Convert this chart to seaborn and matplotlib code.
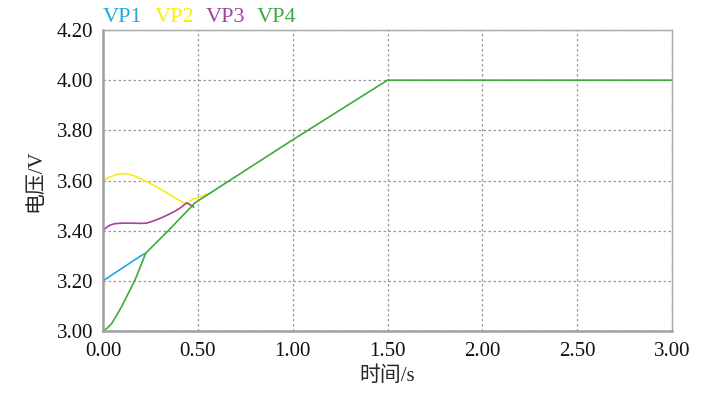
import matplotlib
matplotlib.use("Agg")
import matplotlib.pyplot as plt
import seaborn as sns
import pandas as pd

# ---- data ----
t1 = [0.0, 0.05, 0.10, 0.15, 0.20, 0.225]
v1 = [3.20, 3.225, 3.25, 3.275, 3.30, 3.31]

t2 = [0.0, 0.03, 0.06, 0.09, 0.12, 0.16, 0.20, 0.25, 0.30, 0.35, 0.40, 0.432, 0.45, 0.47, 0.50, 0.53, 0.565]
v2 = [3.600, 3.612, 3.621, 3.627, 3.627, 3.620, 3.606, 3.588, 3.567, 3.544, 3.522, 3.508, 3.512, 3.524, 3.532, 3.540, 3.549]

t3 = [0.0, 0.02, 0.04, 0.063, 0.10, 0.15, 0.20, 0.23, 0.27, 0.31, 0.35, 0.38, 0.41, 0.441, 0.46, 0.478]
v3 = [3.400, 3.414, 3.423, 3.428, 3.430, 3.430, 3.429, 3.430, 3.440, 3.452, 3.466, 3.478, 3.492, 3.511, 3.503, 3.494]

t4 = [0.0, 0.02, 0.046, 0.07, 0.098, 0.13, 0.169, 0.20, 0.225, 0.344, 0.485, 1.00, 1.50, 3.00]
v4 = [3.000, 3.010, 3.030, 3.060, 3.097, 3.145, 3.204, 3.262, 3.310, 3.400, 3.511, 3.762, 4.000, 4.000]

names = ["VP1", "VP2", "VP3", "VP4"]
colors = ["#1ea8e1", "#fbec16", "#a0449c", "#3aac3c"]
x_ticks = [0.0, 0.5, 1.0, 1.5, 2.0, 2.5, 3.0]
y_ticks = [3.0, 3.2, 3.4, 3.6, 3.8, 4.0, 4.2]

sns.set_theme(style="white")
plt.rcParams['font.family'] = ['Liberation Serif', 'Noto Sans CJK SC']

fig = plt.figure(figsize=(7.22, 3.95), dpi=100)
ax = fig.add_axes([103/722, 1 - 331/395, (672-103)/722, (331-30)/395])

series = [(t1, v1), (t2, v2), (t3, v3), (t4, v4)]
for (t, v), name, c in zip(series, names, colors):
    df = pd.DataFrame({"t": t, "v": v})
    sns.lineplot(data=df, x="t", y="v", ax=ax, color=c, linewidth=1.2, sort=False,
                 estimator=None)

ax.set_xlim(0, 3)
ax.set_ylim(3.0, 4.2)
ax.set_xticks(x_ticks)
ax.set_yticks(y_ticks)
ax.set_xticklabels([f"{x:.2f}" for x in x_ticks], fontsize=15)
ax.set_yticklabels([f"{y:.2f}" for y in y_ticks], fontsize=15)
ax.tick_params(axis='both', length=0, pad=7, colors='#111111')
ax.tick_params(axis='x', pad=8)
ax.grid(True, color='#9a9a9a', linestyle=(0, (2, 2)), linewidth=0.9)

for side in ['top', 'right']:
    ax.spines[side].set_color('#a8a8a8')
    ax.spines[side].set_linewidth(1.0)
for side in ['left', 'bottom']:
    ax.spines[side].set_color('#a0a0a0')
    ax.spines[side].set_linewidth(1.8)

ax.set_xlabel("时间/s", fontsize=15, labelpad=4,
              family=['Liberation Serif', 'Noto Sans CJK SC'])
ax.set_ylabel("电压/V", fontsize=15, labelpad=8,
              family=['Liberation Serif', 'Noto Sans CJK SC'])

xs = [103, 155, 206, 257]
for x, name, c in zip(xs, names, colors):
    fig.text(x/722, 1 - 17/395, name, color=c, fontsize=16, va='center', ha='left')

fig.savefig("out.png", dpi=100)
